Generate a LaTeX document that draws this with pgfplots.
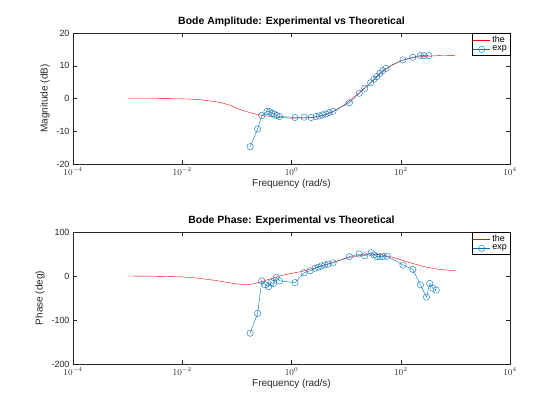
\documentclass[border=0pt]{standalone}
\usepackage{pgfplots}
\pgfplotsset{compat=1.18}
\usepackage{fontspec}
\setmainfont{Liberation Sans}
\definecolor{mblue}{RGB}{0,114,189}
\definecolor{axc}{RGB}{38,38,38}
\pgfplotsset{
  every axis/.append style={
    scale only axis, width=437bp, xmin=1e-4, xmax=1e4,
    xtick={1e-4,1e-2,1,1e2,1e4},
    xticklabels={$10^{-4}$,$10^{-2}$,$10^{0}$,$10^{2}$,$10^{4}$},
    axis line style={axc}, tick style={axc}, tick align=inside,
    ticklabel style={font=\fontsize{9}{10}\selectfont, text=axc},
    label style={font=\fontsize{10}{12}\selectfont, text=axc},
    title style={font=\bfseries\fontsize{10.5}{12}\selectfont, yshift=-3pt},
    xlabel={Frequency (rad/s)},
    xlabel style={yshift=3pt},
    legend style={at={(1,1)}, anchor=north east, font=\fontsize{9}{10}\selectfont, draw=black, inner sep=1pt, row sep=-2pt, cells={anchor=west}},
    legend cell align=left,
    xminorticks=false,
    /pgf/number format/assume math mode=true,
  }
}
\begin{document}
\begin{tikzpicture}
\path (0,0) rectangle (560bp,420bp);
\begin{axis}[xmode=log, at={(73bp,256bp)}, anchor=south west, height=131bp,
  ymin=-20, ymax=20, ytick={-20,-10,0,10,20},
  ylabel={Magnitude (dB)},
  title={Bode Amplitude: Experimental vs Theoretical}]
\addplot[red, thin] coordinates {(1e-3,0)(3e-3,0)(0.01,-0.1)(0.02,-0.3)(0.05,-1.2)(0.08,-2.2)(0.1,-3)(0.15,-4)(0.2,-4.6)(0.3,-5.2)(0.5,-5.7)(1,-6)(2,-5.9)(3,-5.6)(5,-4.6)(7,-3.3)(10,-1.5)(15,0.8)(20,2.7)(30,5.2)(50,8.6)(70,10.3)(100,11.5)(150,12.3)(200,12.7)(300,12.9)(500,13.1)(1000,13.2)};
\addlegendentry{the}
\addplot[mblue, mark=o, mark size=3.2pt] coordinates {
(0.175,-14.7)(0.24,-9.3)(0.286,-5.2)(0.355,-4.0)(0.398,-4.0)(0.437,-4.5)(0.479,-4.7)(0.537,-5.2)(0.603,-5.5)
(1.16,-5.8)(1.70,-5.7)(2.29,-5.8)(2.82,-5.5)(3.24,-5.3)(3.72,-5.0)(4.27,-4.7)(4.90,-4.3)(5.75,-3.9)
(11.5,-1.3)(17.4,1.6)(21.9,3.1)(28.2,4.8)(32.4,5.9)(36.3,6.7)(41.7,7.7)(46.8,8.5)(53.7,9.2)
(110,11.8)(166,12.6)(229,13.1)(269,13.1)(324,13.1)};
\addlegendentry{exp}
\end{axis}
\begin{axis}[xmode=log, at={(73bp,56bp)}, anchor=south west, height=132bp,
  ymin=-200, ymax=100, ytick={-200,-100,0,100},
  ylabel={Phase (deg)},
  title={Bode Phase: Experimental vs Theoretical}]
\addplot[red, thin] coordinates {(1e-3,0)(3e-3,-0.5)(0.01,-2)(0.02,-5)(0.04,-10)(0.07,-15)(0.1,-18)(0.15,-20)(0.2,-18)(0.3,-12)(0.5,-3)(0.7,2)(1,6)(1.5,10)(2.5,17)(4,25)(6,32)(10,40)(15,45)(25,50)(40,49)(60,45)(100,37)(150,30)(250,22)(500,15)(1000,12)};
\addlegendentry{the}
\addplot[mblue, mark=o, mark size=3.2pt] coordinates {
(0.175,-130)(0.24,-85)(0.286,-11)(0.331,-20)(0.380,-24)(0.427,-15)(0.468,-17)(0.525,-3)(0.603,-11)
(1.16,-15)(1.70,7.5)(2.19,12)(2.69,17.5)(3.09,20)(3.55,23)(4.07,25)(4.68,27)(5.75,30)
(11.5,44)(17.4,50)(21.9,46)(28.8,53)(32.4,48)(36.3,44)(41.7,44)(47.9,44)(56.2,45)
(110,25)(166,15)(229,-20)(295,-48)(339,-17)(389,-28)(447,-32)};
\addlegendentry{exp}
\end{axis}
\end{tikzpicture}
\end{document}
